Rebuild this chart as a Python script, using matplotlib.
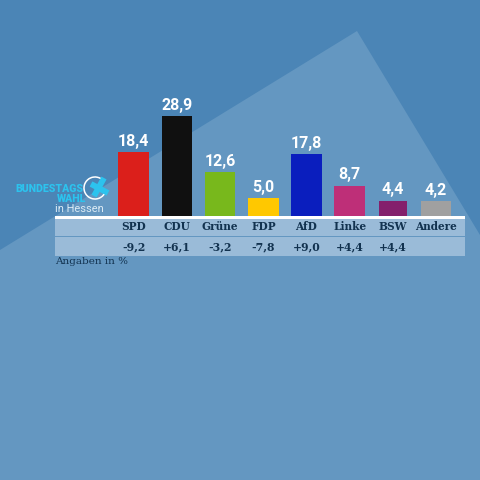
import matplotlib
matplotlib.use("Agg")
import matplotlib.pyplot as plt
from matplotlib.patches import Polygon, Rectangle, Arc

parties = ["SPD", "CDU", "Grüne", "FDP", "AfD", "Linke", "BSW", "Andere"]
shares = [18.4, 28.9, 12.6, 5.0, 17.8, 8.7, 4.4, 4.2]
changes = ["-9,2", "+6,1", "-3,2", "-7,8", "+9,0", "+4,4", "+4,4", ""]
colors = ["#DB1F1B", "#101010", "#78B81C", "#FFC800", "#0A1EBE", "#BE2F78", "#84206C", "#A0A0A0"]
widths = [0.71, 0.71, 0.71, 0.71, 0.71, 0.71, 0.64, 0.71]

DARK = "#4B85B6"
LIGHT = "#6497C1"
ROW = "#9ABBD8"
INK = "#12324F"
S = 480

fig = plt.figure(figsize=(4.8, 4.8), dpi=100, facecolor=DARK)

# Backdrop and furniture in pixel coordinates (origin top left)
bg = fig.add_axes([0, 0, 1, 1], zorder=0)
bg.set_xlim(0, S); bg.set_ylim(S, 0); bg.axis("off")
bg.add_patch(Polygon([(0, 250), (357, 31), (480, 235), (480, 480), (0, 480)],
                     closed=True, fc=LIGHT, ec="none"))
bg.add_patch(Rectangle((55, 215.7), 410, 3, fc="white", ec="none"))
bg.add_patch(Rectangle((55, 218.5), 410, 17, fc=ROW, ec="none"))
bg.add_patch(Rectangle((55, 236.7), 410, 18.8, fc=ROW, ec="none"))
bg.text(55.5, 262, "Angaben in %", fontsize=7.5, color=INK, va="center", ha="left",
        family="DejaVu Serif")

# Logo
CYAN = "#2CC3EE"
bg.text(83, 189.5, "BUNDESTAGS", fontsize=7.6, fontweight="black", color=CYAN, ha="right", va="center", family="Roboto")
bg.text(86, 199.5, "WAHL", fontsize=7.6, fontweight="black", color=CYAN, ha="right", va="center", family="Roboto")
bg.text(55, 209, "in Hessen", fontsize=7.9, color="#DCEBF5", ha="left", va="center", family="Roboto")
bg.add_patch(Arc((95, 188), 22, 22, theta1=20, theta2=320, ec="white", lw=1.1))
bg.plot([91, 108], [184, 193], color=CYAN, lw=4.2, solid_capstyle="butt")
bg.plot([104, 94], [178, 196], color=CYAN, lw=4.2, solid_capstyle="butt")

# Bars: category i is centred at 133.7 + 43.2 i px, baseline at 215.7 px, 3.45 px per unit
x0, dx = 133.7, 43.2
left_px, right_px = 55.0, 465.0
base_px, top_px = 215.7, 90.0
ax = fig.add_axes([left_px / S, 1 - base_px / S, (right_px - left_px) / S, (base_px - top_px) / S], zorder=1)
ax.patch.set_alpha(0)
ax.set_xlim((left_px - x0) / dx, (right_px - x0) / dx)
ax.set_ylim(0, (base_px - top_px) / 3.45)
ax.axis("off")
pos = list(range(len(parties)))
ax.bar(pos, shares, width=widths, color=colors, linewidth=0)
for i, v in zip(pos, shares):
    ax.annotate(f"{v:.1f}".replace(".", ","), (i, v), xytext=(0, 2.5), textcoords="offset points",
                ha="center", va="bottom", fontsize=11.5, color="white", fontweight="bold",
                family="Roboto")

# Table text, aligned to the same categories
trans = ax.get_xaxis_transform()
for i, p, c in zip(pos, parties, changes):
    ax.text(i, (base_px - 226.8) / (base_px - top_px), p, transform=trans, ha="center", va="center",
            fontsize=7.6, fontweight="bold", color=INK, family="DejaVu Serif", clip_on=False)
    if c:
        ax.text(i, (base_px - 246.5) / (base_px - top_px), c, transform=trans, ha="center", va="center",
                fontsize=7.8, fontweight="bold", color=INK, family="DejaVu Serif", clip_on=False)

fig.savefig("out.png", dpi=100, facecolor=DARK)
